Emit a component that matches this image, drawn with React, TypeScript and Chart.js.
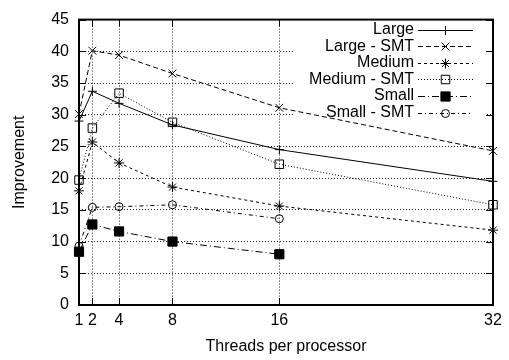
import React, { useEffect, useRef } from 'react';
import { Chart, registerables } from 'chart.js';
import { drawPoint } from 'chart.js/helpers';

Chart.register(...registerables);

// ---- data ----
const threads = [1, 2, 4, 8, 16, 32];
const xTickValues = [1, 2, 4, 8, 16, 32];
const yMin = 0;
const yMax = 45;
const yStep = 5;
const seriesNames = ['Large', 'Large - SMT', 'Medium', 'Medium - SMT', 'Small', 'Small - SMT'];
const large = [29.0, 33.7, 31.8, 28.4, 24.5, 19.5];
const largeSMT = [30.1, 40.1, 39.4, 36.5, 31.1, 24.3];
const medium = [18.0, 25.7, 22.4, 18.6, 15.6, 11.8];
const mediumSMT = [19.7, 27.9, 33.4, 28.8, 22.2, 15.8];
const small = [8.4, 12.7, 11.6, 10.0, 8.0];
const smallSMT = [9.3, 15.4, 15.5, 15.8, 13.6];

const FONT = '"Liberation Sans", Arial, Helvetica, sans-serif';

const styles = [
  { dash: [], point: 'cross', radius: 4.5, fill: 'rgba(0,0,0,0)' },
  { dash: [5, 3], point: 'crossRot', radius: 5.5, fill: 'rgba(0,0,0,0)' },
  { dash: [3, 3], point: 'star', radius: 5, fill: 'rgba(0,0,0,0)' },
  { dash: [1, 2], point: 'rect', radius: 6, fill: 'rgba(0,0,0,0)' },
  { dash: [7, 3, 1, 3], point: 'rect', radius: 6.5, fill: '#000' },
  { dash: [4, 3, 1, 3], point: 'circle', radius: 4, fill: 'rgba(0,0,0,0)' },
];

const seriesValues = [large, largeSMT, medium, mediumSMT, small, smallSMT];

const framePlugin = {
  id: 'gnuframe',
  beforeDatasetsDraw(chart: any) {
    const { ctx, chartArea: a, scales } = chart;
    ctx.save();
    // opaque key area
    ctx.fillStyle = '#fff';
    ctx.fillRect(293, a.top + 8, a.right - 8 - 293, 109);
    // frame
    ctx.strokeStyle = '#000';
    ctx.lineWidth = 2;
    ctx.setLineDash([]);
    ctx.strokeRect(a.left, a.top, a.right - a.left, a.bottom - a.top);
    // inward ticks
    ctx.lineWidth = 1;
    ctx.beginPath();
    for (let v = yMin; v <= yMax; v += yStep) {
      const y = Math.round(scales.y.getPixelForValue(v)) + 0.5;
      ctx.moveTo(a.left, y);
      ctx.lineTo(a.left + 7, y);
      ctx.moveTo(a.right, y);
      ctx.lineTo(a.right - 7, y);
    }
    for (const v of xTickValues) {
      const x = Math.round(scales.x.getPixelForValue(v)) + 0.5;
      ctx.moveTo(x, a.bottom);
      ctx.lineTo(x, a.bottom - 7);
      ctx.moveTo(x, a.top);
      ctx.lineTo(x, a.top + 7);
    }
    ctx.stroke();
    // axis titles
    ctx.fillStyle = '#000';
    ctx.font = `16px ${FONT}`;
    ctx.textAlign = 'center';
    ctx.textBaseline = 'middle';
    ctx.fillText('Threads per processor', (a.left + a.right) / 2, 347);
    ctx.translate(20, (a.top + a.bottom) / 2);
    ctx.rotate(-Math.PI / 2);
    ctx.fillText('Improvement', 0, 0);
    ctx.restore();
  },
  afterDatasetsDraw(chart: any) {
    const { ctx } = chart;
    ctx.save();
    ctx.font = `16px ${FONT}`;
    ctx.textAlign = 'right';
    ctx.textBaseline = 'middle';
    chart.data.datasets.forEach((ds: any, i: number) => {
      const y = 29.5 + i * 16.6;
      ctx.fillStyle = '#000';
      ctx.fillText(ds.label, 414, y);
      ctx.strokeStyle = '#000';
      ctx.lineWidth = 1;
      ctx.setLineDash(ds.borderDash || []);
      ctx.beginPath();
      ctx.moveTo(418, Math.round(y) + 0.5);
      ctx.lineTo(473, Math.round(y) + 0.5);
      ctx.stroke();
      ctx.setLineDash([]);
      ctx.fillStyle = ds.pointBackgroundColor;
      drawPoint(ctx, { pointStyle: ds.pointStyle, radius: ds.pointRadius, rotation: 0, borderWidth: 1 } as any, 445.5, Math.round(y) + 0.5);
    });
    ctx.restore();
  },
};

export default function App() {
  const ref = useRef<HTMLCanvasElement>(null);
  useEffect(() => {
    if (!ref.current) return;
    const datasets = seriesNames.map((name, i) => ({
      label: name,
      data: seriesValues[i].map((v, j) => ({ x: threads[j], y: v })),
      borderColor: '#000',
      borderWidth: 1,
      borderDash: styles[i].dash,
      pointStyle: styles[i].point,
      pointRadius: styles[i].radius,
      pointBorderColor: '#000',
      pointBackgroundColor: styles[i].fill,
      pointBorderWidth: 1,
      tension: 0,
      fill: false,
      clip: false as any,
    }));
    const chart = new Chart(ref.current, {
      type: 'line',
      data: { datasets },
      options: {
        responsive: false,
        animation: false,
        layout: { padding: { left: 0, top: 13, right: 16, bottom: 0 } },
        plugins: { legend: { display: false }, tooltip: { enabled: false }, title: { display: false } },
        scales: {
          x: {
            type: 'linear',
            min: 1,
            max: 32,
            afterBuildTicks: (s: any) => {
              s.ticks = xTickValues.map((v) => ({ value: v }));
            },
            afterFit: (s: any) => {
              s.height = 55;
            },
            grid: { color: 'rgba(0,0,0,0.85)', lineWidth: 1, drawTicks: false },
            border: { display: false, dash: [1, 2] },
            ticks: { color: '#000', font: { family: FONT, size: 16 }, padding: 6, maxRotation: 0, autoSkip: false },
          },
          y: {
            type: 'linear',
            min: yMin,
            max: yMax,
            afterFit: (s: any) => {
              s.width = 79;
            },
            grid: { color: 'rgba(0,0,0,0.85)', lineWidth: 1, drawTicks: false },
            border: { display: false, dash: [1, 2] },
            ticks: { stepSize: yStep, color: '#000', font: { family: FONT, size: 16 }, padding: 10 },
          },
        },
      },
      plugins: [framePlugin],
    });
    return () => chart.destroy();
  }, []);
  return (
    <div style={{ position: 'absolute', left: 0, top: 0, width: 509, height: 360, background: '#fff' }}>
      <canvas ref={ref} width={509} height={360} style={{ display: 'block' }} />
    </div>
  );
}
